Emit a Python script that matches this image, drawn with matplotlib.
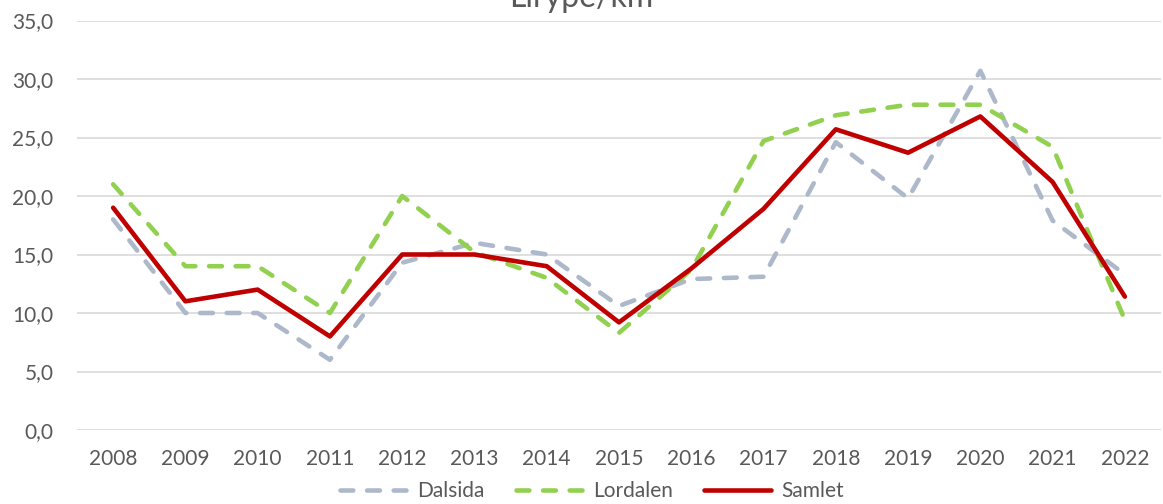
import matplotlib.pyplot as plt
from matplotlib.ticker import FuncFormatter

years = list(range(2008, 2023))
dalsida = [18.0, 10.0, 10.0, 6.0, 14.3, 16.0, 15.0, 10.6, 12.9, 13.1, 24.6, 19.8, 30.7, 17.9, 13.3]
lordalen = [21.0, 14.0, 14.0, 10.0, 20.0, 15.2, 13.0, 8.3, 13.7, 24.7, 26.9, 27.8, 27.8, 24.2, 9.4]
samlet = [19.0, 11.0, 12.0, 8.0, 15.0, 15.0, 14.0, 9.2, 13.8, 18.9, 25.7, 23.7, 26.8, 21.2, 11.4]

plt.rcParams["font.family"] = ["Lato", "DejaVu Sans"]
text_col = "#595959"

fig = plt.figure(figsize=(11.63, 5.04), dpi=100)
ax = fig.add_axes([77 / 1163, 74 / 504, (1161 - 77) / 1163, (430 - 20.5) / 504])

x = list(range(len(years)))
lw = 3.3
ax.plot(x, dalsida, color="#ADB9CA", lw=lw, dashes=(2.8, 3.0), dash_capstyle="round",
        label="Dalsida")
ax.plot(x, lordalen, color="#92D050", lw=lw, dashes=(2.8, 3.0), dash_capstyle="round",
        label="Lordalen")
ax.plot(x, samlet, color="#C00000", lw=lw, solid_capstyle="round",
        label="Samlet")

ax.set_xlim(-0.5, len(years) - 0.5)
ax.set_ylim(0, 35)
ax.set_yticks(range(0, 36, 5))
ax.yaxis.set_major_formatter(FuncFormatter(lambda v, p: f"{v:.1f}".replace(".", ",")))
ax.set_xticks(x)
ax.set_xticklabels([str(y) for y in years])
ax.grid(axis="y", color="#D9D9D9", lw=1.2)
ax.set_axisbelow(True)
for s in ax.spines.values():
    s.set_visible(False)
ax.tick_params(axis="both", length=0, labelsize=15, colors=text_col)
ax.tick_params(axis="y", pad=17)
ax.tick_params(axis="x", pad=14)

# title is cut off at the top edge in the original too
fig.text(0.5, 1 - 7 / 504, "Lirype/km", ha="center", va="baseline", fontsize=23, color=text_col)

fig.legend(loc="center", bbox_to_anchor=(592 / 1163, 1 - 491 / 504), ncol=3, frameon=False,
           fontsize=15, labelcolor=text_col, handlelength=3.2, handletextpad=0.5,
           columnspacing=1.5)

fig.savefig("out.png", dpi=100)
